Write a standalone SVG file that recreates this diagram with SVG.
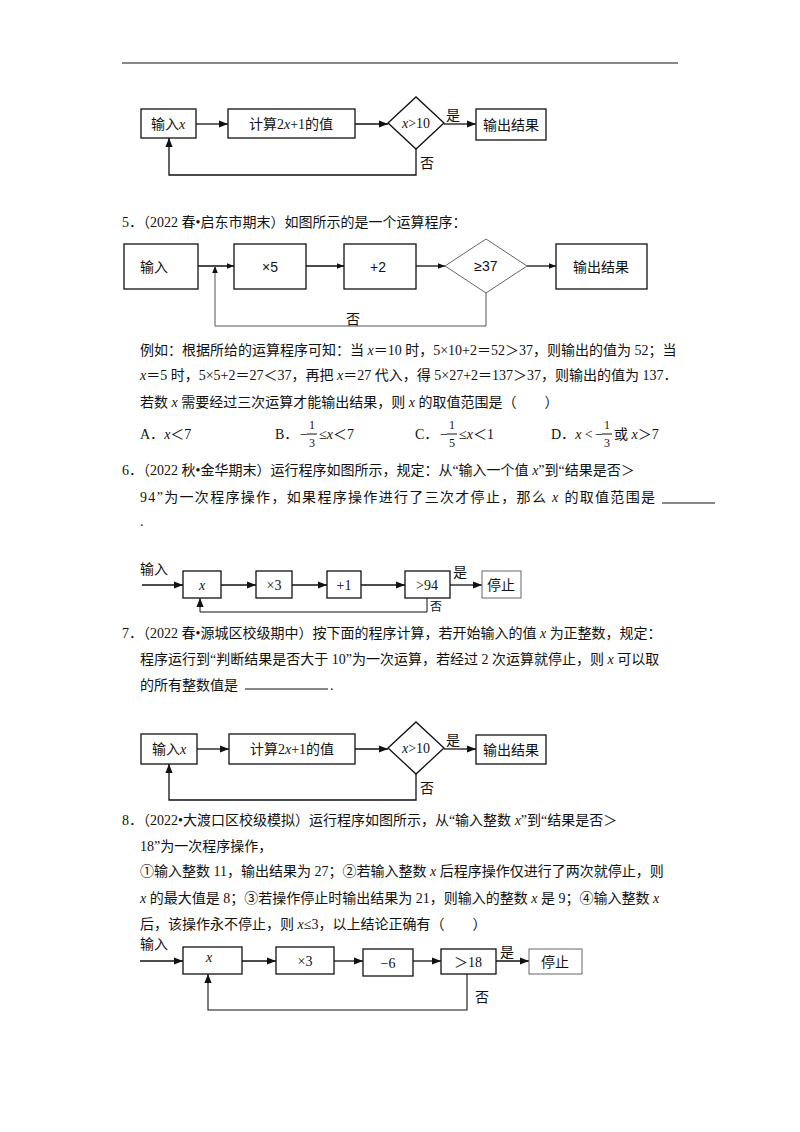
<svg xmlns="http://www.w3.org/2000/svg" width="800" height="1132" viewBox="0 0 800 1132">
<style>
text{font-family:"Liberation Serif","Noto Sans CJK SC",serif;font-size:14px;fill:#111}
.s{font-family:"Liberation Sans","Noto Sans CJK SC",sans-serif}
.b{fill:#fff;stroke:#111;stroke-width:1.3}
.d{fill:#fff;stroke:#666;stroke-width:1}
.c{fill:none;stroke:#111;stroke-width:1.3}
.m{text-anchor:middle}
.i{font-style:italic}
.f{font-size:12px;text-anchor:middle}
</style>
<defs>
<marker id="a" viewBox="0 0 10 10" refX="10" refY="5" markerWidth="9" markerHeight="9" markerUnits="userSpaceOnUse" orient="auto"><path d="M0,1L10,5L0,9z" fill="#111"/></marker>
<marker id="a2" viewBox="0 0 10 10" refX="10" refY="5" markerWidth="7" markerHeight="7" markerUnits="userSpaceOnUse" orient="auto"><path d="M0,1L10,5L0,9z" fill="#111"/></marker>
</defs>
<rect width="800" height="1132" fill="#fff"/>
<line x1="122" y1="63" x2="678" y2="63" stroke="#111" stroke-width="1.2"/>

<!-- Diagram 1 -->
<g id="d1-connectors">
<line class="c" x1="196" y1="124" x2="228" y2="124" marker-end="url(#a)"/>
<line class="c" x1="355" y1="124" x2="388" y2="124" marker-end="url(#a)"/>
<line class="c" x1="444" y1="124" x2="476" y2="124" marker-end="url(#a)"/>
<polyline class="c" points="416,149 416,175 169,175 169,138" marker-end="url(#a)"/>
<text x="446" y="120">是</text><text x="420" y="168">否</text>
</g>
<g id="d1-in"><rect class="b" x="141" y="109" width="55" height="29"/><text x="168" y="129" class="m">输入<tspan class="i">x</tspan></text></g>
<g id="d1-calc"><rect class="b" x="228" y="109" width="127" height="29"/><text x="291" y="129" class="m">计算2<tspan class="i">x</tspan>+1的值</text></g>
<g id="d1-dec"><polygon class="b" points="388,123 416,97 444,123 416,149"/><text x="416" y="128" class="m"><tspan class="i">x</tspan>&gt;10</text></g>
<g id="d1-out"><rect class="b" x="476" y="109" width="70" height="31"/><text x="511" y="130" class="m">输出结果</text></g>

<text x="122" y="227">5．（2022 春•启东市期末）如图所示的是一个运算程序：</text>

<!-- Diagram 5 -->
<g id="d5-connectors">
<line class="c" x1="198" y1="266" x2="234" y2="266" marker-end="url(#a2)"/>
<line class="c" x1="306" y1="266" x2="344" y2="266" marker-end="url(#a2)"/>
<line class="c" x1="416" y1="266" x2="445" y2="266" marker-end="url(#a2)"/>
<line class="c" x1="527" y1="266" x2="556" y2="266" marker-end="url(#a2)"/>
<polyline points="486,293 486,326 215,326 215,266" fill="none" stroke="#555" stroke-width="1" marker-end="url(#a2)"/>
<text x="346" y="324" class="s">否</text>
</g>
<g id="d5-in"><rect class="b" x="124" y="244" width="74" height="45"/><text x="140" y="272" class="s">输入</text></g>
<g id="d5-m5"><rect class="b" x="234" y="244" width="72" height="45"/><text x="270" y="272" class="m s" fill="#333">×5</text></g>
<g id="d5-p2"><rect class="b" x="344" y="244" width="72" height="45"/><text x="378" y="272" class="m s">+2</text></g>
<g id="d5-dec"><polygon class="d" points="445,266 486,239 527,266 486,293"/><text x="486" y="271" class="m s">≥37</text></g>
<g id="d5-out"><rect class="b" x="556" y="244" width="91" height="45"/><text x="601" y="272" class="m s">输出结果</text></g>

<text x="140" y="355">例如：根据所给的运算程序可知：当 <tspan class="i">x</tspan>＝10 时，5×10+2＝52＞37，则输出的值为 52；当</text>
<text x="140" y="380"><tspan class="i">x</tspan>＝5 时，5×5+2＝27＜37，再把 <tspan class="i">x</tspan>＝27 代入，得 5×27+2＝137＞37，则输出的值为 137．</text>
<text x="140" y="407">若数 <tspan class="i">x</tspan> 需要经过三次运算才能输出结果，则 <tspan class="i">x</tspan> 的取值范围是（　　）</text>

<text x="140" y="439">A．<tspan class="i">x</tspan>＜7</text>
<text x="275" y="439">B．</text><text x="300" y="439">−</text>
<text x="312" y="429" class="f">1</text><line x1="307" y1="434" x2="317" y2="434" stroke="#111"/><text x="312" y="447" class="f">3</text>
<text x="319" y="439">≤<tspan class="i">x</tspan>＜7</text>
<text x="415" y="439">C．</text><text x="440" y="439">−</text>
<text x="452" y="429" class="f">1</text><line x1="447" y1="434" x2="457" y2="434" stroke="#111"/><text x="452" y="447" class="f">5</text>
<text x="459" y="439">≤<tspan class="i">x</tspan>＜1</text>
<text x="551" y="439">D．<tspan class="i">x</tspan> &lt;</text><text x="595" y="439">−</text>
<text x="607" y="429" class="f">1</text><line x1="602" y1="434" x2="612" y2="434" stroke="#111"/><text x="607" y="447" class="f">3</text>
<text x="614" y="439">或 <tspan class="i">x</tspan>＞7</text>

<text x="122" y="475">6．（2022 秋•金华期末）运行程序如图所示，规定：从“输入一个值 <tspan class="i">x</tspan>”到“结果是否＞</text>
<text x="140" y="502" textLength="515" lengthAdjust="spacing">94”为一次程序操作，如果程序操作进行了三次才停止，那么 <tspan class="i">x</tspan> 的取值范围是</text>
<line x1="662" y1="503" x2="715" y2="503" stroke="#111" stroke-width="1"/>
<text x="140" y="526">.</text>

<!-- Diagram 6 -->
<g id="d6-connectors">
<text x="140" y="574">输入</text>
<line class="c" x1="142" y1="585" x2="183" y2="585" marker-end="url(#a)"/>
<line class="c" x1="221" y1="585" x2="256" y2="585" marker-end="url(#a)"/>
<line class="c" x1="292" y1="585" x2="327" y2="585" marker-end="url(#a)"/>
<line class="c" x1="361" y1="585" x2="405" y2="585" marker-end="url(#a)"/>
<line class="c" x1="450" y1="585" x2="482" y2="585" marker-end="url(#a)"/>
<polyline points="427,598 427,612 200,612 200,598" fill="none" stroke="#111" stroke-width="1" marker-end="url(#a)"/>
<text x="453" y="577">是</text><text x="430" y="611" style="font-size:12px">否</text>
</g>
<g id="d6-x"><rect class="b" x="183" y="571" width="38" height="27"/><text x="202" y="590" class="m i">x</text></g>
<g id="d6-m3"><rect class="b" x="256" y="571" width="36" height="27"/><text x="274" y="590" class="m">×3</text></g>
<g id="d6-p1"><rect class="b" x="327" y="571" width="34" height="27"/><text x="344" y="590" class="m">+1</text></g>
<g id="d6-dec"><rect class="b" x="405" y="571" width="45" height="27"/><text x="427" y="590" class="m">&gt;94</text></g>
<g id="d6-stop"><rect class="d" x="482" y="571" width="39" height="27"/><text x="501" y="590" class="m" fill="#444">停止</text></g>

<text x="122" y="638">7．（2022 春•源城区校级期中）按下面的程序计算，若开始输入的值 <tspan class="i">x</tspan> 为正整数，规定：</text>
<text x="140" y="664">程序运行到“判断结果是否大于 10”为一次运算，若经过 2 次运算就停止，则 <tspan class="i">x</tspan> 可以取</text>
<text x="140" y="690">的所有整数值是</text>
<line x1="245" y1="689" x2="328" y2="689" stroke="#111" stroke-width="1"/>
<text x="330" y="690">.</text>

<!-- Diagram 7 -->
<g id="d7-connectors">
<line class="c" x1="197" y1="749" x2="229" y2="749" marker-end="url(#a)"/>
<line class="c" x1="355" y1="749" x2="388" y2="749" marker-end="url(#a)"/>
<line class="c" x1="444" y1="749" x2="476" y2="749" marker-end="url(#a)"/>
<polyline class="c" points="416,774 416,800 169,800 169,764" marker-end="url(#a)"/>
<text x="446" y="745">是</text><text x="420" y="793">否</text>
</g>
<g id="d7-in"><rect class="b" x="141" y="734" width="56" height="30"/><text x="169" y="754" class="m">输入<tspan class="i">x</tspan></text></g>
<g id="d7-calc"><rect class="b" x="229" y="734" width="126" height="30"/><text x="292" y="754" class="m">计算2<tspan class="i">x</tspan>+1的值</text></g>
<g id="d7-dec"><polygon class="b" points="388,748 416,722 444,748 416,774"/><text x="416" y="753" class="m"><tspan class="i">x</tspan>&gt;10</text></g>
<g id="d7-out"><rect class="b" x="476" y="735" width="70" height="29"/><text x="511" y="755" class="m">输出结果</text></g>

<text x="122" y="825">8．（2022•大渡口区校级模拟）运行程序如图所示，从“输入整数 <tspan class="i">x</tspan>”到“结果是否＞</text>
<text x="140" y="851">18”为一次程序操作，</text>
<text x="140" y="876">①输入整数 11，输出结果为 27；②若输入整数 <tspan class="i">x</tspan> 后程序操作仅进行了两次就停止，则</text>
<text x="140" y="903"><tspan class="i">x</tspan> 的最大值是 8；③若操作停止时输出结果为 21，则输入的整数 <tspan class="i">x</tspan> 是 9；④输入整数 <tspan class="i">x</tspan></text>
<text x="140" y="929">后，该操作永不停止，则 <tspan class="i">x</tspan>≤3，以上结论正确有（　　）</text>

<!-- Diagram 8 -->
<g id="d8-connectors">
<text x="140" y="949">输入</text>
<line class="c" x1="140" y1="961" x2="183" y2="961" marker-end="url(#a)"/>
<line class="c" x1="242" y1="961" x2="276" y2="961" marker-end="url(#a)"/>
<line class="c" x1="334" y1="961" x2="363" y2="961" marker-end="url(#a)"/>
<line class="c" x1="413" y1="961" x2="441" y2="961" marker-end="url(#a)"/>
<line class="c" x1="496" y1="961" x2="529" y2="961" marker-end="url(#a)"/>
<polyline points="467,974 467,1010 208,1010 208,974" fill="none" stroke="#111" stroke-width="1.1" marker-end="url(#a)"/>
<text x="500" y="957">是</text><text x="475" y="1002">否</text>
</g>
<g id="d8-x"><rect class="b" x="183" y="947" width="59" height="27"/><text x="209" y="962" class="m i">x</text></g>
<g id="d8-m3"><rect class="b" x="276" y="947" width="58" height="27"/><text x="305" y="966" class="m">×3</text></g>
<g id="d8-m6"><rect class="b" x="363" y="949" width="50" height="27"/><text x="388" y="968" class="m">−6</text></g>
<g id="d8-dec"><rect class="b" x="441" y="949" width="55" height="25"/><text x="468" y="967" class="m">＞18</text></g>
<g id="d8-stop"><rect class="d" x="529" y="949" width="53" height="25"/><text x="555" y="967" class="m" fill="#444">停止</text></g>
</svg>
